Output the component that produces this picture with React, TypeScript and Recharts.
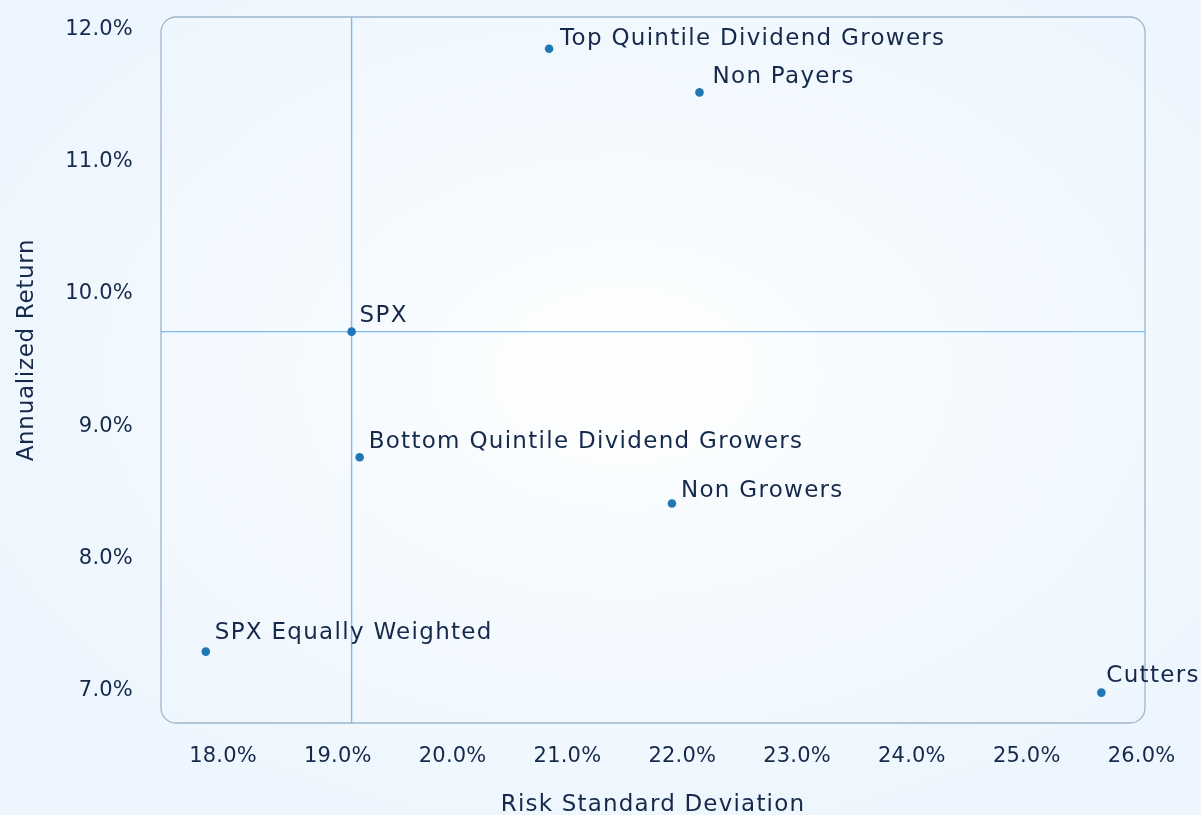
import React from "react";
import {
  ScatterChart,
  Scatter,
  XAxis,
  YAxis,
  ReferenceLine,
  ReferenceArea,
  Label,
} from "recharts";

// ---- data ----
const names = [
  "Top Quintile Dividend Growers",
  "Non Payers",
  "SPX",
  "Bottom Quintile Dividend Growers",
  "Non Growers",
  "SPX Equally Weighted",
  "Cutters",
];
const riskStdDev = [20.84, 22.15, 19.12, 19.19, 21.91, 17.85, 25.65];
const annualizedReturn = [11.84, 11.51, 9.7, 8.75, 8.4, 7.28, 6.97];
const xTicks = [18, 19, 20, 21, 22, 23, 24, 25, 26];
const yTicks = [7, 8, 9, 10, 11, 12];
const xDomain = [17.46, 26.03];
const yDomain = [6.74, 12.08];
const benchmarkName = "SPX";

const data = names.map((name, i) => ({
  name,
  x: riskStdDev[i],
  y: annualizedReturn[i],
}));
const benchmark = data.find((d) => d.name === benchmarkName)!;

// label offsets (style, not data)
const labelOffsets: Record<string, [number, number]> = {
  "Top Quintile Dividend Growers": [11, -4],
  "Non Payers": [13, -9],
  SPX: [8, -10],
  "Bottom Quintile Dividend Growers": [9, -9],
  "Non Growers": [9, -7],
  "SPX Equally Weighted": [9, -13],
  Cutters: [5, -11],
};

const FONT = "'DejaVu Sans', sans-serif";
const TEXT = "#15294b";
const DOT = "#1f77b4";
const CROSS = "#7dbcf3";

const fmt = (v: number) => `${v.toFixed(1)}%`;

const XTick = (props: any) => {
  const { x, y, payload } = props;
  return (
    <text x={x} y={y} dy={39} textAnchor="middle" fill={TEXT} fontSize={21} letterSpacing={0.2} fontFamily={FONT}>
      {fmt(payload.value)}
    </text>
  );
};

const YTick = (props: any) => {
  const { x, y, payload } = props;
  return (
    <text x={x - 28} y={y} dy={7.5} textAnchor="end" fill={TEXT} fontSize={21} letterSpacing={0.2} fontFamily={FONT}>
      {fmt(payload.value)}
    </text>
  );
};

const CrossLine = (props: any) => {
  const { x1, y1, x2, y2 } = props;
  return (
    <line
      x1={x1}
      y1={y1}
      x2={x2}
      y2={y2}
      style={{ stroke: CROSS, strokeWidth: 1.4 }}
      strokeOpacity={1}
    />
  );
};

const PointShape = (props: any) => {
  const { cx, cy, payload } = props;
  const off = labelOffsets[payload.name] || [9, -9];
  return (
    <g>
      <circle cx={cx} cy={cy} r={4.3} fill={DOT} />
      <text
        x={cx + off[0]}
        y={cy + off[1]}
        fill={TEXT}
        fontSize={23}
        letterSpacing={1.3}
        fontFamily={FONT}
      >
        {payload.name}
      </text>
    </g>
  );
};

export default function App() {
  return (
    <div
      style={{
        position: "fixed",
        left: 0,
        top: 0,
        width: 1201,
        height: 815,
        background:
          "radial-gradient(ellipse 60% 60% at 52% 46%, #ffffff 0%, #f5fafe 45%, #edf6fe 100%)",
      }}
    >
      <ScatterChart
        width={1201}
        height={815}
        margin={{ top: 17, right: 56, bottom: 0, left: 0 }}
      >
        <ReferenceArea
          x1={xDomain[0]}
          x2={xDomain[1]}
          y1={yDomain[0]}
          y2={yDomain[1]}
          fill="none"
          stroke="#9db6cc"
          strokeWidth={1.3}
          radius={15}
          ifOverflow="extendDomain"
        />
        <XAxis
          type="number"
          dataKey="x"
          domain={xDomain}
          ticks={xTicks}
          axisLine={false}
          tickLine={false}
          tickSize={0}
          tickMargin={0}
          height={92}
          tick={<XTick />}
          interval={0}
        >
          <Label
            content={(p: any) => {
              const vb = p.viewBox;
              return (
                <text
                  x={vb.x + vb.width / 2}
                  y={vb.y + 88}
                  textAnchor="middle"
                  fill={TEXT}
                  fontSize={23}
                  letterSpacing={1.2}
                  fontFamily={FONT}
                >
                  Risk Standard Deviation
                </text>
              );
            }}
          />
        </XAxis>
        <YAxis
          type="number"
          dataKey="y"
          domain={yDomain}
          ticks={yTicks}
          axisLine={false}
          tickLine={false}
          tickSize={0}
          tickMargin={0}
          width={161}
          tick={<YTick />}
          interval={0}
        >
          <Label
            content={(p: any) => {
              const vb = p.viewBox;
              const cy = vb.y + vb.height / 2 - 20;
              return (
                <text
                  x={33}
                  y={cy}
                  transform={`rotate(-90, 33, ${cy})`}
                  textAnchor="middle"
                  fill={TEXT}
                  fontSize={23}
                  letterSpacing={0.7}
                  fontFamily={FONT}
                >
                  Annualized Return
                </text>
              );
            }}
          />
        </YAxis>
        <ReferenceLine x={benchmark.x} stroke={CROSS} shape={<CrossLine />} />
        <ReferenceLine y={benchmark.y} stroke={CROSS} shape={<CrossLine />} />
        <Scatter data={data} isAnimationActive={false} shape={<PointShape />} />
      </ScatterChart>
    </div>
  );
}
